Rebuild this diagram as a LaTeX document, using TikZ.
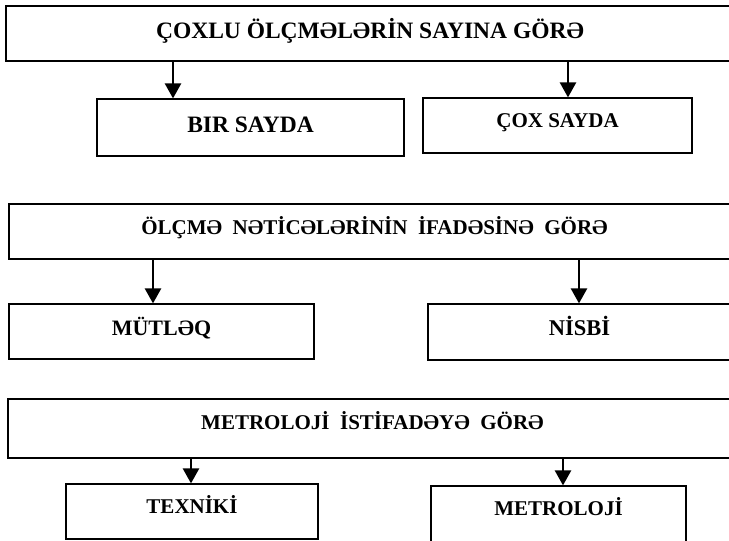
\documentclass[tikz,border=0pt]{standalone}
\usepackage{fontspec}
\setmainfont{Liberation Serif}
\usetikzlibrary{arrows.meta}
\begin{document}
\begin{tikzpicture}[x=1pt,y=-1pt,
  box/.style={draw,line width=1.2pt,inner sep=0pt,font=\bfseries},
  arr/.style={line width=2.5pt,-{Triangle[length=15pt,width=16pt]}}]
\useasboundingbox (0,0) rectangle (729,541);
\fill[white] (0,0) rectangle (729,541);
% row 1
\node[box,minimum width=728pt,minimum height=55pt,text height=15pt,text depth=6pt,font=\bfseries\fontsize{23.5}{23.5}\selectfont] (A) at (370,33.5) {ÇOXLU ÖLÇMƏLƏRİN SAYINA GÖRƏ};
\node[box,minimum width=307pt,minimum height=57pt,text height=15pt,text depth=6pt,font=\bfseries\fontsize{23.5}{23.5}\selectfont] (bir) at (250.5,127.5) {BIR SAYDA};
\node[box,minimum width=269pt,minimum height=55pt,text height=14pt,text depth=11pt,font=\bfseries\fontsize{21}{21}\selectfont] (cox) at (557.5,125.5) {ÇOX SAYDA};
% row 2
\node[box,minimum width=731pt,minimum height=55pt,text height=13pt,text depth=8pt,font=\bfseries\fontsize{21}{21}\selectfont] (B) at (374.5,231.5) {ÖLÇMƏ\ \ NƏTİCƏLƏRİNİN\ \ İFADƏSİNƏ\ \ GÖRƏ};
\node[box,minimum width=305pt,minimum height=55pt,text height=14pt,text depth=7pt,font=\bfseries\fontsize{22}{22}\selectfont] (mut) at (161.5,331.5) {MÜTLƏQ};
\node[box,minimum width=303pt,minimum height=56pt,text height=14pt,text depth=8pt,font=\bfseries\fontsize{22.5}{22.5}\selectfont] (nis) at (579.5,332) {NİSBİ};
% row 3
\node[box,minimum width=729pt,minimum height=59pt,text height=13pt,text depth=12pt,font=\bfseries\fontsize{21}{21}\selectfont] (C) at (372.5,428.5) {METROLOJİ\ \ İSTİFADƏYƏ\ \ GÖRƏ};
\node[box,minimum width=252pt,minimum height=55pt,text height=14pt,text depth=11pt,font=\bfseries\fontsize{21}{21}\selectfont] (tex) at (192,511.5) {TEXNİKİ};
\node[box,minimum width=255pt,minimum height=57pt,text height=14pt,text depth=13pt,font=\bfseries\fontsize{21}{21}\selectfont] (met) at (558.5,514.5) {METROLOJİ};
% arrow columns
\coordinate (xa1) at (173,0);
\coordinate (xa2) at (568,0);
\coordinate (xb1) at (153,0);
\coordinate (xb2) at (579,0);
\coordinate (xc1) at (191,0);
\coordinate (xc2) at (563,0);
\draw[arr] (xa1 |- A.south) -- (xa1 |- bir.north);
\draw[arr] (xa2 |- A.south) -- (xa2 |- cox.north);
\draw[arr] (xb1 |- B.south) -- (xb1 |- mut.north);
\draw[arr] (xb2 |- B.south) -- (xb2 |- nis.north);
\draw[arr] (xc1 |- C.south) -- (xc1 |- tex.north);
\draw[arr] (xc2 |- C.south) -- (xc2 |- met.north);
\end{tikzpicture}
\end{document}
